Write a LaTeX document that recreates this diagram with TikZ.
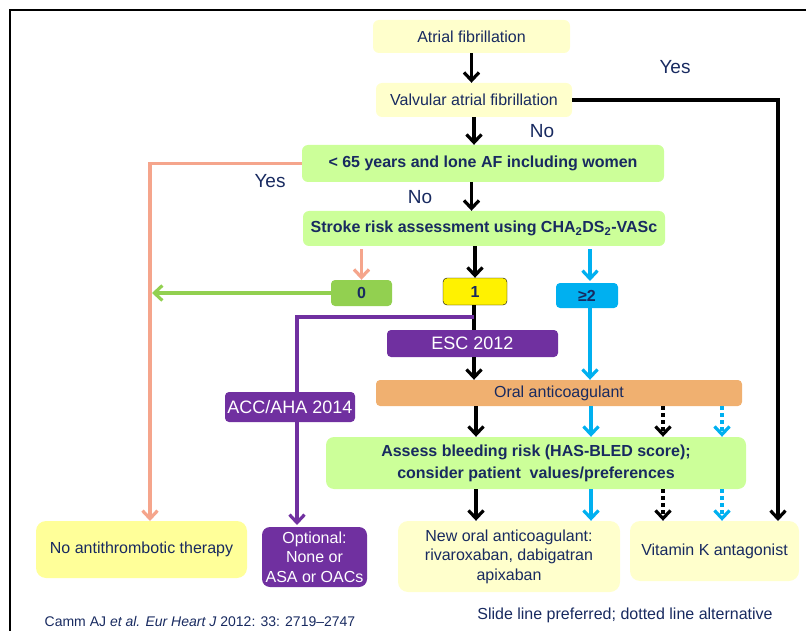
\documentclass[tikz,border=0pt]{standalone}
\usepackage{fontspec}
\setmainfont{Liberation Sans}
\usetikzlibrary{arrows.meta}
\definecolor{afnavy}{RGB}{24,42,96}
\definecolor{afpale}{RGB}{255,255,204}
\definecolor{afyellow}{RGB}{255,255,153}
\definecolor{afmint}{RGB}{204,255,153}
\definecolor{afgreen}{RGB}{146,208,80}
\definecolor{afcyan}{RGB}{0,176,240}
\definecolor{afpurple}{RGB}{112,48,160}
\definecolor{aforange}{RGB}{240,176,112}
\definecolor{afsalmon}{RGB}{245,165,140}

\begin{document}
\begin{tikzpicture}[x=1pt, y=-1pt,
  box/.style={fill=#1, rounded corners=6pt, inner sep=2pt, text=afnavy, align=center,
    font=\fontsize{16}{19.5}\selectfont},
  boldbox/.style={box=#1, font=\fontsize{16}{22}\selectfont\bfseries},
  guide/.style={fill=afpurple, rounded corners=4pt, inner sep=1pt, text=white, align=center,
    font=\fontsize{18}{20}\selectfont},
  lbl/.style={text=afnavy, font=\fontsize{19}{22}\selectfont},
  arr/.style={line width=3.2pt, draw=#1, -{Straight Barb[length=8pt,width=15pt]}},
  arr/.default=black,
  dots/.style={arr=#1, dash pattern=on 3.5pt off 3.5pt},
  dots/.default=black]
  \useasboundingbox (0,0) rectangle (806,631);
  \draw[line width=2.2pt] (10,660) -- (10,10) -- (830,10);

  % main column
  \node[box=afpale, minimum width=197pt, minimum height=33pt] (af) at (471.5,36.5) {Atrial fibrillation};
  \node[box=afpale, minimum width=196pt, minimum height=34pt] (valv) at (474,100) {Valvular atrial fibrillation};
  \node[boldbox=afmint, minimum width=362pt, minimum height=37pt] (lone) at (483,163.5) {< 65 years and lone AF including women};
  \node[boldbox=afmint, minimum width=362pt, minimum height=35pt] (stroke) at (484,228.5) {Stroke risk assessment using CHA\textsubscript{2}DS\textsubscript{2}-VASc};

  % scores
  \node[boldbox=afgreen, minimum width=61pt, minimum height=26pt, rounded corners=4pt] (s0) at (361.5,293) {0};
  \node[boldbox=yellow, draw=black, thin, minimum width=64pt, minimum height=27pt, rounded corners=4pt] (s1) at (475,291.5) {1};
  \node[boldbox=afcyan, minimum width=62pt, minimum height=25pt, rounded corners=4pt] (s2) at (587,295.5) {≥2};

  \node[guide, minimum width=171pt, minimum height=27pt] (esc) at (472.5,343.5) {ESC 2012};
  \node[box=aforange, minimum width=366pt, minimum height=26pt, rounded corners=4pt] (oac) at (559,393) {Oral anticoagulant};
  \node[boldbox=afmint, minimum width=420pt, minimum height=52pt, rounded corners=8pt] (bleed) at (536,463)
    {Assess bleeding risk (HAS-BLED score);\\ consider patient\ \ values/preferences};

  % outcomes
  \node[box=afyellow, minimum width=211pt, minimum height=57pt, rounded corners=10pt] (none) at (141.5,549.5) {No antithrombotic therapy};
  \node[guide, minimum width=105pt, minimum height=60pt, rounded corners=8pt,
    font=\fontsize{16}{19.5}\selectfont] (opt) at (314.5,557) {Optional:\\ None or\\ ASA or OACs};
  \node[box=afpale, minimum width=222pt, minimum height=71pt, rounded corners=10pt] (noac) at (509,556.5)
    {New oral anticoagulant:\\ rivaroxaban, dabigatran\\ apixaban};
  \node[box=afpale, minimum width=169pt, minimum height=60pt, rounded corners=10pt] (vka) at (714.5,551) {Vitamin K antagonist};

  % yes / no
  \node[lbl] (yes1) at (675,67) {Yes};
  \node[lbl] (no1) at (542,131) {No};
  \node[lbl] (yes2) at (270,181) {Yes};
  \node[lbl] (no2) at (420,197) {No};

  \coordinate (vkin) at (778,521);
  \coordinate (nonein) at (150,521);
  \coordinate (zeroout) at (152,293);
  \coordinate (split) at (474,317);
  \coordinate (optin) at (297,525);

  \draw[arr] (af.south) -- (af.south |- valv.north);
  \draw[arr] (valv.east) -| (vkin);
  \draw[arr] (valv.south) -- (valv.south |- lone.north);
  \draw[arr=afsalmon] (lone.west) -| (nonein);
  \draw[arr] (lone.south -| af.south) -- (af.south |- stroke.north);

  \draw[arr=afsalmon, shorten <=3pt] (stroke.south -| s0.north) -- (s0.north);
  \draw[arr] (stroke.south -| s1.north) -- (s1.north);
  \draw[arr=afcyan, shorten <=3pt] (stroke.south -| 590,0) -- (590,281);
  \draw[arr=afgreen] (s0.west) -- (zeroout);

  \draw[line width=3.2pt] (s1.south -| split) -- (esc.north -| split);
  \draw[line width=3.2pt, afpurple, -{Straight Barb[length=8pt,width=15pt]}] (split) -| (optin);
  \draw[arr] (esc.south -| split) -- (oac.north -| split);
  \draw[arr=afcyan] (s2.south -| 590,0) -- (oac.north -| 590,0);

  \draw[arr] (oac.south -| 476,0) -- (bleed.north -| 476,0);
  \draw[arr=afcyan] (oac.south -| 591,0) -- (bleed.north -| 591,0);
  \draw[dots] (oac.south -| 663,0) -- (bleed.north -| 663,0);
  \draw[dots=afcyan] (oac.south -| 722,0) -- (bleed.north -| 722,0);

  \draw[arr] (bleed.south -| 476,0) -- (noac.north -| 476,0);
  \draw[arr=afcyan] (bleed.south -| 591,0) -- (noac.north -| 591,0);
  \draw[dots] (bleed.south -| 663,0) -- (vka.north -| 663,0);
  \draw[dots=afcyan] (bleed.south -| 722,0) -- (vka.north -| 722,0);

  \node[guide, minimum width=130pt, minimum height=30pt] (acc) at (290,407) {ACC/AHA 2014};

  % footer
  \node[text=afnavy, font=\fontsize{16}{19}\selectfont] (legend) at (625,615) {Slide line preferred; dotted line alternative};
  \node[text=afnavy, font=\fontsize{14}{16}\selectfont, anchor=base] (cite) at (200,626)
    {Camm AJ \textit{et al. Eur Heart J} 2012: 33: 2719–2747};
\end{tikzpicture}
\end{document}
